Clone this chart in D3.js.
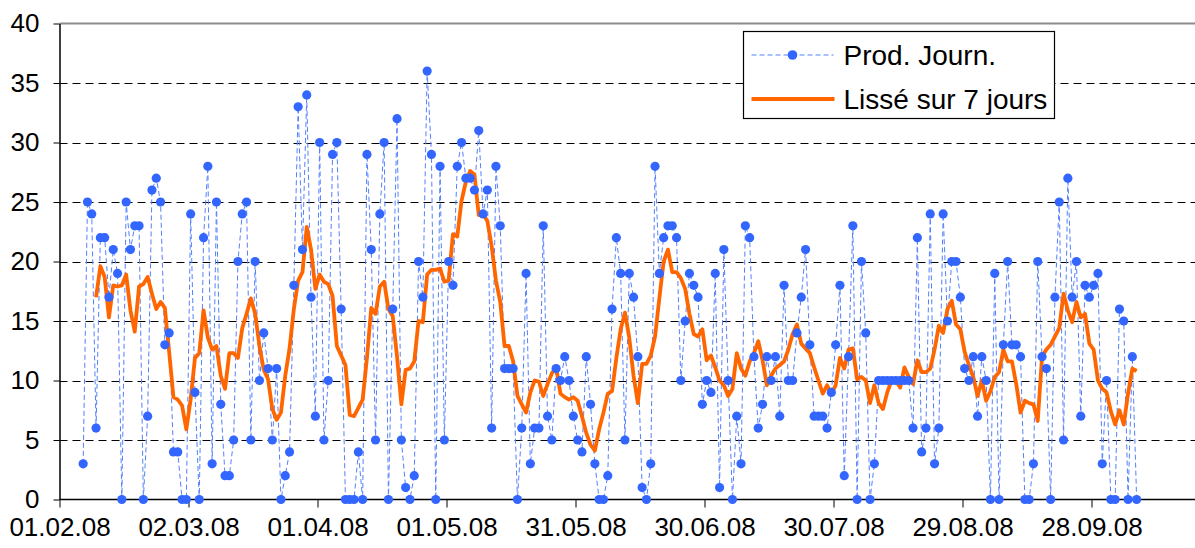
<!DOCTYPE html>
<html>
<head>
<meta charset="utf-8">
<script src="https://cdn.jsdelivr.net/npm/d3@7"></script>
<style>
  html, body { margin: 0; padding: 0; background: #fff; }
  svg { display: block; font-family: "Liberation Sans", Arial, sans-serif; }
</style>
</head>
<body>
<div id="chart"></div>
<script>
// Production journalière + moyenne glissante sur 7 jours

const axisStart = '01.02.08';
const axisEnd   = '28.10.08';
const xTickLabels = ['01.02.08', '02.03.08', '01.04.08', '01.05.08', '31.05.08',
                     '30.06.08', '30.07.08', '29.08.08', '28.09.08'];
const yTicks = [0, 5, 10, 15, 20, 25, 30, 35, 40];

// Prod. Journ. : one value per day from 06.02.08
const prodStart = '06.02.08';
const prodValues = [
  3, 25, 24, 6, 22, 22, 17, 21, 19, 0,
  25, 21, 23, 23, 0, 7, 26, 27, 25, 13,
  14, 4, 4, 0, 0, 24, 9, 0, 22, 28,
  3, 25, 8, 2, 2, 5, 20, 24, 25, 5,
  20, 10, 14, 11, 5, 11, 0, 2, 4, 18,
  33, 21, 34, 17, 7, 30, 5, 10, 29, 30,
  16, 0, 0, 0, 4, 0, 29, 21, 5, 24,
  30, 0, 16, 32, 5, 1, 0, 2, 20, 17,
  36, 29, 0, 28, 5, 20, 18, 28, 30, 27,
  27, 26, 31, 24, 26, 6, 28, 23, 11, 11,
  11, 0, 6, 19, 3, 6, 6, 23, 7, 5,
  11, 10, 12, 10, 7, 5, 4, 12, 8, 3,
  0, 0, 2, 16, 22, 19, 5, 19, 17, 12,
  1, 0, 3, 28, 19, 22, 23, 23, 22, 10,
  15, 19, 18, 17, 8, 10, 9, 19, 1, 21,
  10, 0, 7, 3, 23, 22, 12, 6, 8, 12,
  10, 12, 7, 18, 10, 10, 14, 17, 21, 13,
  7, 7, 7, 6, 9, 13, 18, 2, 12, 23,
  0, 20, 14, 0, 3, 10, 10, 10, 10, 10,
  10, 10, 10, 6, 22, 4, 6, 24, 3, 6,
  24, 15, 20, 20, 17, 11, 10, 12, 7, 12,
  10, 0, 19, 0, 13, 20, 13, 13, 12, 0,
  0, 3, 20, 12, 11, 0, 17, 25, 5, 27,
  17, 20, 7, 18, 17, 18, 19, 3, 10, 0,
  0, 16, 15, 0, 12, 0
];

// Lissé sur 7 jours : one value per day from 09.02.08
const smoothStart = '09.02.08';
const smoothValues = [
  17.0, 19.6, 18.7, 15.3, 18.0, 17.9, 18.0, 18.9, 15.9, 14.1,
  17.9, 18.1, 18.7, 17.3, 16.0, 16.6, 16.1, 12.4, 8.6, 8.4,
  7.9, 5.9, 8.4, 11.9, 12.3, 15.9, 13.6, 12.6, 12.9, 10.4,
  9.3, 12.3, 12.3, 11.9, 14.4, 15.6, 16.9, 15.6, 12.9, 10.9,
  10.1, 7.6, 6.7, 7.3, 10.4, 12.7, 16.0, 18.4, 19.1, 22.9,
  21.0, 17.7, 18.9, 18.3, 18.1, 17.1, 12.9, 12.1, 11.3, 7.1,
  7.0, 7.7, 8.4, 11.9, 16.1, 15.6, 17.9, 18.3, 16.0, 15.4,
  12.0, 8.0, 10.9, 11.0, 11.6, 15.0, 14.9, 18.9, 19.3, 19.3,
  19.4, 18.3, 18.4, 22.3, 22.1, 25.1, 26.7, 27.6, 27.3, 23.9,
  24.0, 23.4, 21.3, 18.4, 16.6, 12.9, 12.9, 11.6, 8.7, 8.0,
  7.3, 9.0, 10.0, 9.9, 8.7, 9.7, 10.6, 11.1, 8.9, 8.6,
  8.4, 8.6, 8.3, 7.0, 5.6, 4.6, 4.1, 5.9, 7.3, 8.9,
  9.1, 11.9, 14.3, 15.7, 13.6, 10.4, 8.1, 11.4, 11.4, 12.1,
  13.7, 16.9, 20.0, 21.0, 19.1, 19.1, 18.6, 17.7, 15.6, 13.9,
  13.7, 14.3, 11.7, 12.1, 11.1, 10.0, 9.6, 8.7, 9.3, 12.3,
  11.0, 10.4, 11.6, 12.3, 13.3, 11.7, 9.6, 10.4, 11.0, 11.3,
  11.6, 12.6, 13.9, 14.7, 13.1, 12.7, 12.3, 11.1, 10.0, 8.9,
  9.6, 8.9, 9.6, 11.9, 11.0, 12.6, 12.7, 10.1, 10.3, 10.0,
  8.1, 9.6, 8.1, 7.6, 9.0, 10.0, 10.0, 9.4, 11.1, 10.3,
  9.7, 11.7, 10.7, 10.7, 11.0, 12.6, 14.6, 14.0, 16.0, 16.7,
  14.7, 14.3, 12.4, 11.3, 10.3, 8.7, 10.0, 8.3, 9.1, 10.3,
  10.7, 12.6, 11.6, 11.6, 9.7, 7.3, 8.3, 8.1, 8.0, 6.6,
  12.0, 12.6, 13.0, 13.7, 14.4, 17.3, 15.9, 14.9, 16.6, 15.3,
  15.6, 13.1, 12.6, 10.0, 9.3, 9.0, 7.4, 6.3, 7.5, 6.3,
  8.9, 11.0, 10.8
];

const legendItems = ['Prod. Journ.', 'Lissé sur 7 jours'];

const COLORS = {
  prod: '#3366ff', prodLine: '#5580ff', smooth: '#ff6600',
  grid: '#000000', axis: '#000000', frame: '#8c8c8c', text: '#000000',
};

const W = 1195, H = 548;
const M = { top: 23.5, left: 59.5, bottom: 499.5 };

const parse = d3.utcParse('%d.%m.%y');

// points sit in the middle of their day
const daily = (start, values) => values.map((v, i) => ({
  date: d3.utcHour.offset(d3.utcDay.offset(parse(start), i), 12),
  value: v,
}));
const prod   = daily(prodStart, prodValues);
const smooth = daily(smoothStart, smoothValues);

const x = d3.scaleUtc()
  .domain([parse(axisStart), parse(axisEnd)])
  .range([M.left, M.left + 270 * 4.3]);
const y = d3.scaleLinear().domain([0, 40]).range([M.bottom, M.top]);

const svg = d3.select('#chart').append('svg')
  .attr('width', W).attr('height', H);

svg.append('rect').attr('width', W).attr('height', H).attr('fill', '#fff');

// ── grille ──
const gridG = svg.append('g');
yTicks.filter(v => v > 0 && v < 40).forEach(v => {
  gridG.append('line')
    .attr('x1', M.left).attr('x2', W)
    .attr('y1', Math.round(y(v)) + 0.5).attr('y2', Math.round(y(v)) + 0.5)
    .attr('stroke', COLORS.grid).attr('stroke-width', 1)
    .attr('stroke-dasharray', '8,5');
});
svg.append('line')
  .attr('x1', M.left).attr('x2', W)
  .attr('y1', M.top).attr('y2', M.top)
  .attr('stroke', COLORS.frame).attr('stroke-width', 2);

// ── axes ──
svg.append('g').attr('transform', `translate(0,${M.bottom})`)
  .call(d3.axisBottom(x)
    .tickValues(xTickLabels.map(parse))
    .tickFormat(d3.utcFormat('%d.%m.%y'))
    .tickSize(8).tickSizeOuter(0))
  .call(ax => ax.select('.domain').attr('stroke', COLORS.axis).attr('stroke-width', 1.5)
    .attr('d', `M${M.left},0H${W}`))
  .call(ax => ax.selectAll('line').attr('stroke', COLORS.axis))
  .call(ax => ax.selectAll('text').attr('fill', COLORS.text)
    .attr('font-size', 26).attr('font-family', null).attr('dy', null).attr('y', 36));

svg.append('g').attr('transform', `translate(${M.left},0)`)
  .call(d3.axisLeft(y).tickValues(yTicks).tickSize(6).tickSizeOuter(0).tickPadding(14))
  .call(ax => ax.select('.domain').attr('stroke', COLORS.axis).attr('stroke-width', 1.5))
  .call(ax => ax.selectAll('line').attr('stroke', COLORS.axis))
  .call(ax => ax.selectAll('text').attr('fill', COLORS.text)
    .attr('font-size', 26).attr('font-family', null));

// ── séries ──
const line = d3.line().x(d => x(d.date)).y(d => y(d.value));

svg.append('path')
  .attr('d', line(prod))
  .attr('fill', 'none').attr('stroke', COLORS.prodLine)
  .attr('stroke-width', 1).attr('stroke-dasharray', '5,3');

svg.append('path')
  .attr('d', line(smooth))
  .attr('fill', 'none').attr('stroke', COLORS.smooth)
  .attr('stroke-width', 3.8).attr('stroke-linejoin', 'round');

svg.append('g').selectAll('circle')
  .data(prod)
  .join('circle')
  .attr('cx', d => x(d.date)).attr('cy', d => y(d.value))
  .attr('r', 4.6).attr('fill', COLORS.prod);

// ── légende ──
const lg = svg.append('g').attr('transform', 'translate(743.5,31.5)');
lg.append('rect').attr('width', 311).attr('height', 87)
  .attr('fill', '#fff').attr('stroke', '#000').attr('stroke-width', 1.2);

lg.append('line').attr('x1', 8).attr('x2', 90).attr('y1', 23.5).attr('y2', 23.5)
  .attr('stroke', COLORS.prodLine).attr('stroke-width', 1).attr('stroke-dasharray', '5,3');
lg.append('circle').attr('cx', 49).attr('cy', 23.5).attr('r', 4.8).attr('fill', COLORS.prod);
lg.append('line').attr('x1', 8).attr('x2', 91).attr('y1', 67.5).attr('y2', 67.5)
  .attr('stroke', COLORS.smooth).attr('stroke-width', 3.8);

legendItems.forEach((t, i) => {
  lg.append('text')
    .attr('x', 100).attr('y', 33.5 + i * 43.5)
    .attr('font-size', 28).attr('fill', COLORS.text)
    .text(t);
});
</script>
</body>
</html>
